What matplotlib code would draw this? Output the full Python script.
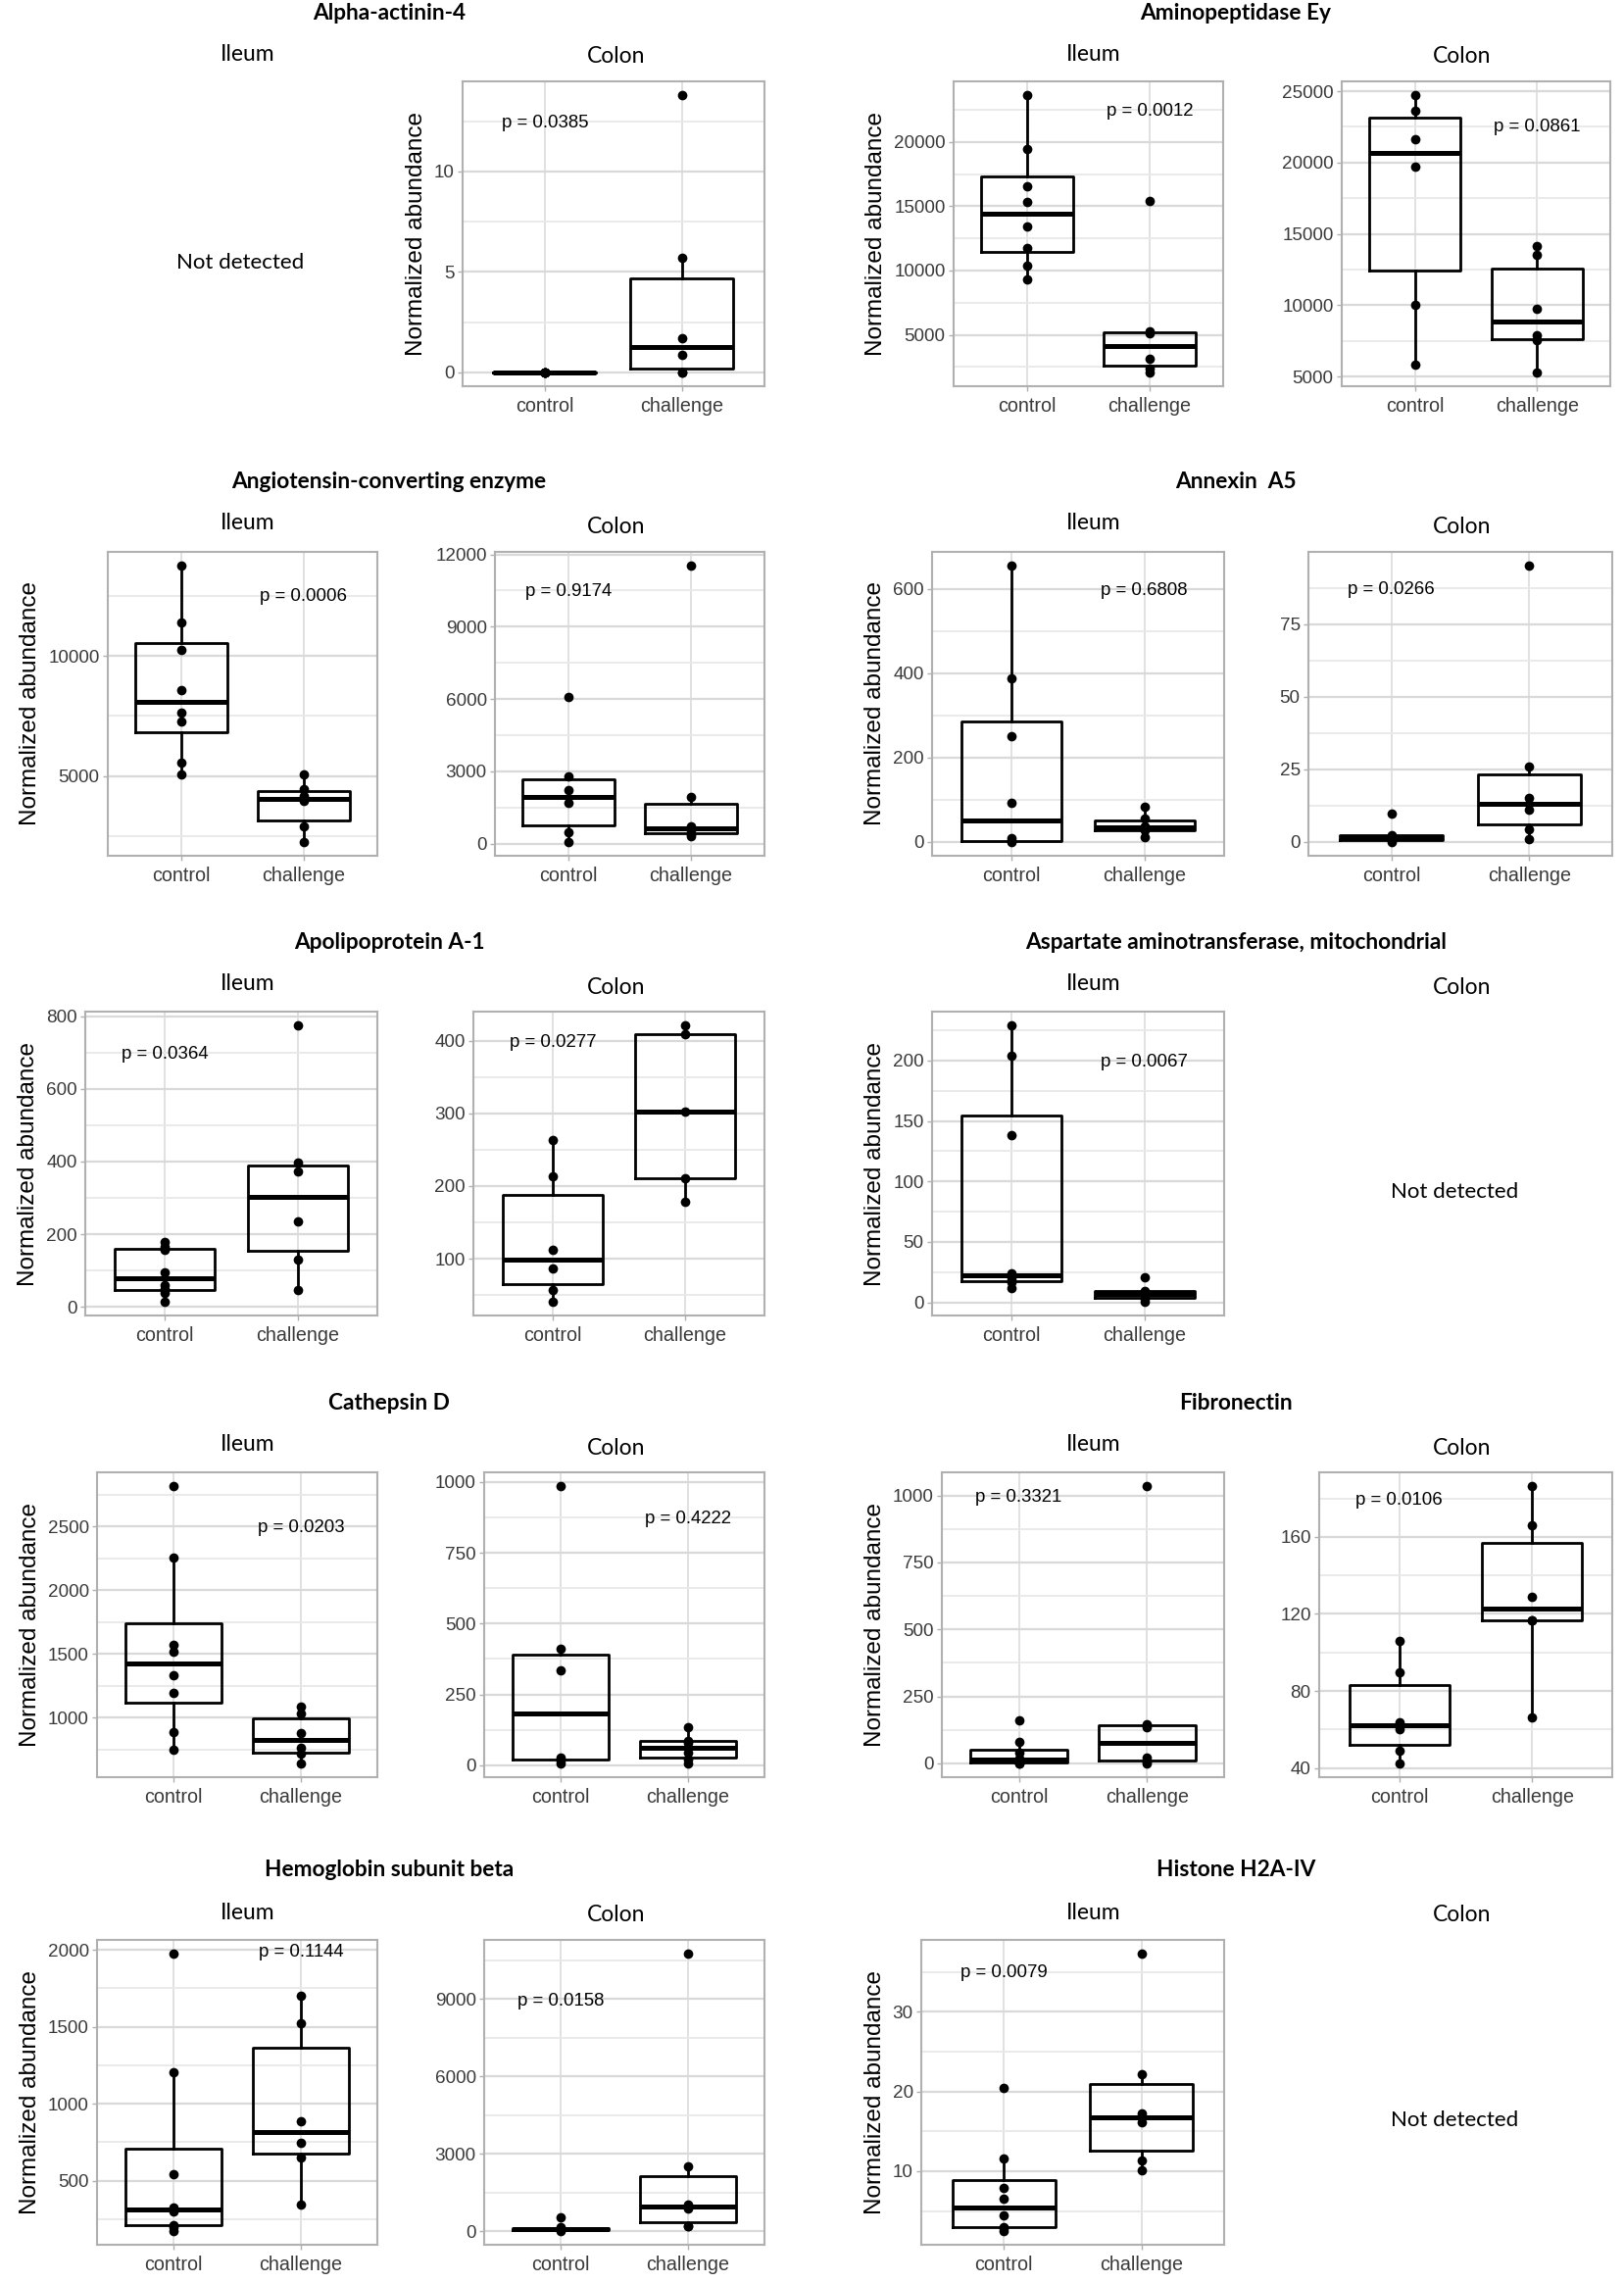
import matplotlib
matplotlib.use("Agg")
import matplotlib.pyplot as plt
import numpy as np

plt.rcParams['font.family'] = ['Liberation Sans', 'DejaVu Sans']

# ---------------- data ----------------
groups = ["control", "challenge"]
proteins = ["Alpha-actinin-4", "Aminopeptidase Ey", "Angiotensin-converting enzyme",
            "Annexin  A5", "Apolipoprotein A-1", "Aspartate aminotransferase, mitochondrial",
            "Cathepsin D", "Fibronectin", "Hemoglobin subunit beta", "Histone H2A-IV"]
tissues = ["Ileum", "Colon"]

alpha_colon_ctrl = [0, 0, 0, 0, 0, 0]
alpha_colon_chal = [0, 0, 0.85, 1.7, 5.7, 13.8]
amino_ileum_ctrl = [9308, 10347, 11766, 13464, 15314, 16581, 19419, 23625]
amino_ileum_chal = [2086, 2390, 3150, 5150, 5250, 15440]
amino_colon_ctrl = [5870, 10038, 19725, 21603, 23618, 24717]
amino_colon_chal = [5298, 7542, 7931, 9763, 13542, 14183]
angio_ileum_ctrl = [5081, 5569, 7249, 7629, 8577, 10230, 11382, 13753]
angio_ileum_chal = [2249, 2886, 3943, 4173, 4444, 5081]
angio_colon_ctrl = [68, 459, 1674, 2214, 2795, 6102]
angio_colon_chal = [324, 400, 541, 729, 1944, 11529]
annex_ileum_ctrl = [0, 1, 2, 10, 93, 250, 389, 655]
annex_ileum_chal = [12, 27, 33, 38, 55, 83]
annex_colon_ctrl = [0, 0.5, 1.2, 1.5, 2.4, 9.6]
annex_colon_chal = [0.9, 4.3, 11.2, 15.2, 26.1, 95.1]
apo_ileum_ctrl = [14, 39, 48, 61, 95, 156, 165, 178]
apo_ileum_chal = [45, 129, 234, 372, 396, 775]
apo_colon_ctrl = [41, 57, 87, 112, 214, 263]
apo_colon_chal = [178, 211, 302, 409, 421]
asp_ileum_ctrl = [12, 17, 18, 21, 24, 138, 204, 229]
asp_ileum_chal = [0.5, 2.5, 6, 7.5, 9.5, 21]
cath_ileum_ctrl = [744, 885, 1192, 1331, 1518, 1569, 2256, 2818]
cath_ileum_chal = [641, 715, 762, 882, 1031, 1087]
cath_colon_ctrl = [7, 16, 28, 336, 410, 985]
cath_colon_chal = [8, 22, 45, 79, 87, 135]
fib_ileum_ctrl = [0, 1, 3, 12, 18, 39, 79, 161]
fib_ileum_chal = [0, 8, 20, 136, 145, 1035]
fib_colon_ctrl = [42.5, 49, 60.4, 63.8, 89.6, 106.2]
fib_colon_chal = [66.3, 116.7, 116.9, 129.1, 165.9, 186.3]
hem_ileum_ctrl = [173, 200, 212, 300, 328, 543, 1205, 1974]
hem_ileum_chal = [345, 650, 743, 883, 1523, 1699]
hem_colon_ctrl = [20, 40, 80, 100, 150, 533]
hem_colon_chal = [190, 200, 876, 1030, 2527, 10757]
hist_ileum_ctrl = [2.5, 2.8, 3.0, 4.4, 6.5, 7.9, 11.6, 20.4]
hist_ileum_chal = [10.1, 11.4, 16.2, 17.3, 22.2, 37.3]

# y tick labels per panel
ticks_alpha_colon = [0, 5, 10]
ticks_amino_ileum = [5000, 10000, 15000, 20000]
ticks_amino_colon = [5000, 10000, 15000, 20000, 25000]
ticks_angio_ileum = [5000, 10000]
ticks_angio_colon = [0, 3000, 6000, 9000, 12000]
ticks_annex_ileum = [0, 200, 400, 600]
ticks_annex_colon = [0, 25, 50, 75]
ticks_apo_ileum = [0, 200, 400, 600, 800]
ticks_apo_colon = [100, 200, 300, 400]
ticks_asp_ileum = [0, 50, 100, 150, 200]
ticks_cath_ileum = [1000, 1500, 2000, 2500]
ticks_cath_colon = [0, 250, 500, 750, 1000]
ticks_fib_ileum = [0, 250, 500, 750, 1000]
ticks_fib_colon = [40, 80, 120, 160]
ticks_hem_ileum = [500, 1000, 1500, 2000]
ticks_hem_colon = [0, 3000, 6000, 9000]
ticks_hist_ileum = [10, 20, 30]

# p-values
p_alpha_colon = "p = 0.0385"
p_amino_ileum = "p = 0.0012"
p_amino_colon = "p = 0.0861"
p_angio_ileum = "p = 0.0006"
p_angio_colon = "p = 0.9174"
p_annex_ileum = "p = 0.6808"
p_annex_colon = "p = 0.0266"
p_apo_ileum = "p = 0.0364"
p_apo_colon = "p = 0.0277"
p_asp_ileum = "p = 0.0067"
p_cath_ileum = "p = 0.0203"
p_cath_colon = "p = 0.4222"
p_fib_ileum = "p = 0.3321"
p_fib_colon = "p = 0.0106"
p_hem_ileum = "p = 0.1144"
p_hem_colon = "p = 0.0158"
p_hist_ileum = "p = 0.0079"

# ---------------- layout ----------------
W, H = 1658, 2328
DPI = 100
fig = plt.figure(figsize=(W / DPI, H / DPI), dpi=DPI)
fig.patch.set_facecolor("white")

ARIAL = ['Liberation Sans', 'DejaVu Sans']
CALIBRI = ['Lato', 'DejaVu Sans']


def rect(l, r, t, b):
    return [l / W, 1 - b / H, (r - l) / W, (b - t) / H]


def ftext(x, y, s, **kw):
    fig.text(x / W, 1 - y / H, s, ha="center", va="center", **kw)


# (ctrl, chal, ticks, p text, p anchor (group pos, y), panel px (l, r, t, b), show ylabel)
panels = [
    (alpha_colon_ctrl, alpha_colon_chal, ticks_alpha_colon, p_alpha_colon, (1, 12.4), (472, 780, 83, 394), True),
    (amino_ileum_ctrl, amino_ileum_chal, ticks_amino_ileum, p_amino_ileum, (2, 22400), (973, 1248, 83, 394), True),
    (amino_colon_ctrl, amino_colon_chal, ticks_amino_colon, p_amino_colon, (2, 22470), (1369, 1643, 83, 394), False),
    (angio_ileum_ctrl, angio_ileum_chal, ticks_angio_ileum, p_angio_ileum, (2, 12466), (110, 385, 563, 873), True),
    (angio_colon_ctrl, angio_colon_chal, ticks_angio_colon, p_angio_colon, (1, 10463), (505, 780, 563, 873), False),
    (annex_ileum_ctrl, annex_ileum_chal, ticks_annex_ileum, p_annex_ileum, (2, 597), (951, 1249, 563, 873), True),
    (annex_colon_ctrl, annex_colon_chal, ticks_annex_colon, p_annex_colon, (1, 87.0), (1335, 1645, 563, 873), False),
    (apo_ileum_ctrl, apo_ileum_chal, ticks_apo_ileum, p_apo_ileum, (1, 696), (87, 385, 1032, 1342), True),
    (apo_colon_ctrl, apo_colon_chal, ticks_apo_colon, p_apo_colon, (1, 397), (483, 780, 1032, 1342), False),
    (asp_ileum_ctrl, asp_ileum_chal, ticks_asp_ileum, p_asp_ileum, (2, 199), (951, 1249, 1032, 1342), True),
    (cath_ileum_ctrl, cath_ileum_chal, ticks_cath_ileum, p_cath_ileum, (2, 2490), (99, 385, 1502, 1813), True),
    (cath_colon_ctrl, cath_colon_chal, ticks_cath_colon, p_cath_colon, (2, 870), (494, 780, 1502, 1813), False),
    (fib_ileum_ctrl, fib_ileum_chal, ticks_fib_ileum, p_fib_ileum, (1, 994), (961, 1249, 1502, 1813), True),
    (fib_colon_ctrl, fib_colon_chal, ticks_fib_colon, p_fib_colon, (1, 178.8), (1346, 1645, 1502, 1813), False),
    (hem_ileum_ctrl, hem_ileum_chal, ticks_hem_ileum, p_hem_ileum, (2, 1985), (99, 385, 1979, 2290), True),
    (hem_colon_ctrl, hem_colon_chal, ticks_hem_colon, p_hem_colon, (1, 8915), (494, 780, 1979, 2290), False),
    (hist_ileum_ctrl, hist_ileum_chal, ticks_hist_ileum, p_hist_ileum, (1, 34.9), (940, 1249, 1979, 2290), True),
]

GRID_MAJ = "#d9d9d9"
GRID_MIN = "#e8e8e8"
BORDER = "#b0b0b0"
TICKTXT = "#3a3a3a"

for ctrl, chal, ticks, ptxt, panc, px, ylab in panels:
    ax = fig.add_axes(rect(*px))
    data = [np.asarray(ctrl, float), np.asarray(chal, float)]
    allv = np.concatenate(data)
    lo, hi = allv.min(), allv.max()
    pad = 0.05 * (hi - lo)
    y0, y1 = lo - pad, hi + pad

    ax.boxplot(data, positions=[1, 2], widths=0.75, whis=1.5, showfliers=False,
               showcaps=False,
               boxprops=dict(color="black", lw=2.0),
               whiskerprops=dict(color="black", lw=2.0),
               medianprops=dict(color="black", lw=3.6, solid_capstyle="butt"),
               zorder=3)
    for i, d in enumerate(data):
        ax.plot(np.full(len(d), i + 1), d, "o", color="black", ms=7.0, mew=0, zorder=4)

    ax.set_xlim(0.4, 2.6)
    ax.set_ylim(y0, y1)
    ax.set_axisbelow(True)

    step = ticks[1] - ticks[0]
    minors = np.arange(ticks[0] - step / 2, y1, step)
    minors = minors[(minors > y0) & (minors < y1)]
    ax.set_yticks(ticks)
    ax.set_yticklabels([str(t) for t in ticks], family=ARIAL, fontsize=13.6)
    ax.set_yticks(minors, minor=True)
    ax.set_xticks([1, 2])
    ax.set_xticklabels(groups, family=ARIAL, fontsize=14.2)
    ax.grid(which="major", axis="y", color=GRID_MAJ, lw=1.6)
    ax.grid(which="minor", axis="y", color=GRID_MIN, lw=1.3)
    ax.grid(which="major", axis="x", color=GRID_MAJ, lw=1.1)

    ax.text(panc[0], panc[1], ptxt, ha="center", va="center", fontsize=13.4,
            color="black", family=ARIAL, zorder=5)

    for s in ax.spines.values():
        s.set_color(BORDER)
        s.set_linewidth(1.5)
    ax.tick_params(which="major", axis="both", color=BORDER, length=3.5, width=1.0,
                   labelcolor=TICKTXT)
    ax.tick_params(which="major", axis="x", pad=4.5)
    ax.tick_params(which="major", axis="y", pad=2.5)
    ax.tick_params(which="minor", length=0)
    if ylab:
        ax.set_ylabel("Normalized abundance", fontsize=17.5, color="black",
                      labelpad=5, family=ARIAL)

# ---------------- titles and facet labels ----------------
row_title_y = [13, 492, 962, 1432, 1908]
row_ileum_y = [55, 533, 1003, 1473, 1951]
row_colon_y = [58, 537, 1007, 1477, 1954]
half_title_x = [397, 1261]
half_ileum_x = [253, 1116]
half_colon_x = [629, 1492]

for k, name in enumerate(proteins):
    r, h = divmod(k, 2)
    ftext(half_title_x[h], row_title_y[r], name, family=CALIBRI, fontweight="bold", fontsize=16.3)
    ftext(half_ileum_x[h], row_ileum_y[r], tissues[0], family=CALIBRI, fontsize=16.5)
    ftext(half_colon_x[h], row_colon_y[r], tissues[1], family=CALIBRI, fontsize=16.5)

# Not detected placeholders
ftext(245, 268, "Not detected", family=CALIBRI, fontsize=16)
ftext(1484, 1216, "Not detected", family=CALIBRI, fontsize=16)
ftext(1484, 2163, "Not detected", family=CALIBRI, fontsize=16)

fig.savefig("out.png", dpi=DPI, facecolor="white")
